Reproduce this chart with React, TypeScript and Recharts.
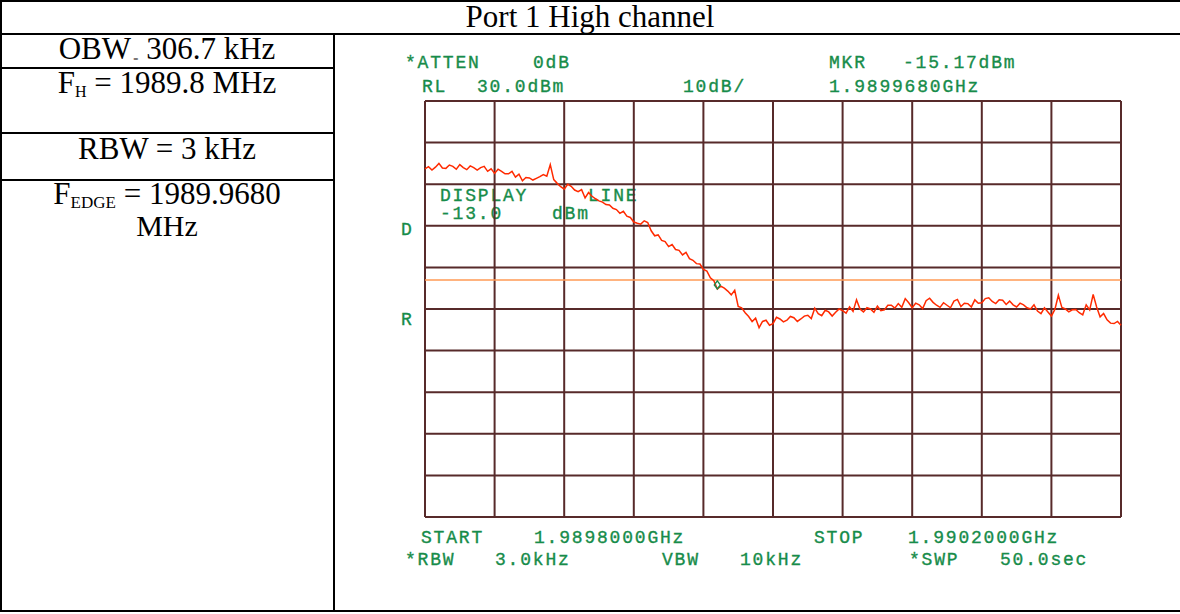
import React from 'react';
import { LineChart, Line, XAxis, YAxis, CartesianGrid, ReferenceLine, ReferenceDot } from 'recharts';

// ============================================
// Data
// ============================================

// sweep: 1989.8000 GHz .. 1990.2000 GHz, points every 2 kHz (offset in kHz)
const SWEEP_START_KHZ = 0;
const SWEEP_STEP_KHZ = 2;

// trace level in dBm, one value per sweep point
const TRACE_DBM = [
  13.7, 14.2, 13.4, 14.1, 15.0, 13.9, 13.8, 14.6, 14.3, 13.6,
  14.7, 14.0, 13.5, 14.4, 14.0, 13.4, 14.0, 14.3, 13.1, 13.7,
  12.6, 13.6, 13.1, 12.5, 12.5, 13.1, 11.7, 12.4, 10.8, 11.6,
  11.5, 11.0, 11.4, 11.8, 12.3, 11.9, 14.7, 11.1, 10.2, 9.4,
  8.8, 10.0, 9.5, 8.6, 8.2, 8.7, 6.7, 8.0, 7.1, 6.5,
  6.0, 5.7, 5.1, 5.0, 4.2, 3.9, 3.0, 3.5, 2.3, 2.0,
  0.9, 0.6, 0.4, 1.2, 0.8, -1.2, -2.4, -2.2, -3.5, -3.8,
  -5.0, -4.5, -5.7, -5.9, -7.0, -6.4, -7.9, -8.3, -9.1, -9.2,
  -10.5, -10.9, -12.5, -13.2, -15.2, -14.5, -15.0, -15.7, -16.6, -15.5,
  -19.4, -19.7, -20.9, -21.8, -23.0, -22.2, -24.5, -23.0, -22.7, -23.9,
  -23.5, -22.0, -22.4, -23.1, -22.7, -21.8, -22.1, -23.0, -22.4, -21.7,
  -21.5, -22.3, -19.8, -21.1, -21.6, -20.3, -20.7, -21.7, -20.8, -20.0,
  -20.4, -21.0, -19.5, -20.6, -17.8, -20.0, -20.7, -19.7, -20.0, -20.8,
  -19.3, -20.4, -20.2, -19.1, -19.1, -19.8, -18.7, -19.6, -17.5, -18.5,
  -19.7, -18.6, -19.0, -19.9, -18.0, -17.4, -18.4, -19.1, -19.6, -18.5,
  -19.1, -19.7, -18.1, -17.7, -19.4, -18.6, -18.7, -19.5, -17.8, -18.6,
  -18.5, -17.5, -17.3, -18.2, -18.7, -17.8, -17.9, -18.9, -18.1, -19.0,
  -19.5, -18.6, -19.0, -19.7, -20.0, -19.0, -20.5, -21.1, -19.7, -20.7,
  -21.7, -20.1, -16.7, -19.6, -20.0, -20.7, -20.2, -20.1, -20.9, -21.4,
  -19.0, -20.2, -16.5, -19.5, -21.9, -21.1, -22.6, -23.4, -23.5, -23.0,
  -23.9,
];

// grid divisions (10 x 10)
const FREQ_TICKS_KHZ = [0, 40, 80, 120, 160, 200, 240, 280, 320, 360, 400];
const LEVEL_TICKS_DBM = [-70, -60, -50, -40, -30, -20, -10, 0, 10, 20, 30];

const DISPLAY_LINE_DBM = -13;
const MARKER_KHZ = 168;
const MARKER_DBM = -15.17;

// analyzer annotations: [text, x, baseline]
const SCREEN_LABELS: Array<[string, number, number]> = [
  ['*ATTEN', 405, 68],
  ['0dB', 533, 68],
  ['MKR', 829, 68],
  ['-15.17dBm', 903, 68],
  ['RL', 422, 92],
  ['30.0dBm', 477, 92],
  ['10dB/', 683, 92],
  ['1.9899680GHz', 829, 92],
  ['DISPLAY', 440, 201],
  ['LINE', 588, 201],
  ['-13.0', 440, 219],
  ['dBm', 552, 219],
  ['D', 401, 235],
  ['R', 401, 325],
  ['START', 421, 543],
  ['1.9898000GHz', 534, 543],
  ['STOP', 814, 543],
  ['1.9902000GHz', 908, 543],
  ['*RBW', 405, 565],
  ['3.0kHz', 495, 565],
  ['VBW', 662, 565],
  ['10kHz', 740, 565],
  ['*SWP', 909, 565],
  ['50.0sec', 1000, 565],
];

const TITLE = 'Port 1 High channel';

const traceData = TRACE_DBM.map((dbm, i) => ({
  f: SWEEP_START_KHZ + i * SWEEP_STEP_KHZ,
  dbm,
}));

// ============================================
// Colors
// ============================================

const GRID = '#572a2a';
const TRACE = '#ff2a00';
const DLINE = '#ff9a55';
const SCREEN_GREEN = '#178c4a';

const MarkerShape = (props: { cx?: number; cy?: number }) => {
  const { cx = 0, cy = 0 } = props;
  return (
    <path
      d={`M${cx},${cy - 8} L${cx + 3},${cy - 4} L${cx},${cy} L${cx - 3},${cy - 4} Z`}
      fill="none"
      stroke={SCREEN_GREEN}
      strokeWidth={1.4}
    />
  );
};

// ============================================
// Table frame + texts
// ============================================

function Frame() {
  const serif = '"Liberation Serif", "Times New Roman", serif';
  return (
    <svg
      width={1180}
      height={614}
      style={{ position: 'absolute', left: 0, top: 0 }}
    >
      {/* table rules */}
      <rect x={0} y={0} width={1180} height={2} fill="#000" />
      <rect x={0} y={33} width={1180} height={2} fill="#000" />
      <rect x={0} y={0} width={2} height={612} fill="#000" />
      <rect x={333} y={34} width={2} height={578} fill="#000" />
      <rect x={0} y={610} width={1180} height={2} fill="#000" />
      <rect x={0} y={67} width={334} height={2} fill="#000" />
      <rect x={0} y={132} width={334} height={2} fill="#000" />
      <rect x={0} y={179} width={334} height={2} fill="#000" />

      <g fontFamily={serif} fill="#000" textAnchor="middle">
        <text x={590} y={27} fontSize={31}>{TITLE}</text>
        <text x={167} y={59} fontSize={31}>
          OBW
          <tspan fontSize={9} dy={3}> =</tspan>
          <tspan dy={-3}> 306.7 kHz</tspan>
        </text>
        <text x={167} y={93} fontSize={31}>
          F
          <tspan fontSize={16} dy={4}>H</tspan>
          <tspan dy={-4}> = 1989.8 MHz</tspan>
        </text>
        <text x={167} y={159} fontSize={31}>RBW = 3 kHz</text>
        <text x={167} y={204} fontSize={31}>
          F
          <tspan fontSize={17} dy={4}>EDGE</tspan>
          <tspan dy={-4}> = 1989.9680</tspan>
        </text>
        <text x={167} y={236} fontSize={30}>MHz</text>
      </g>

      <g
        fontFamily='"Liberation Mono", "DejaVu Sans Mono", monospace'
        fontSize={18}
        letterSpacing={1.8}
        fill={SCREEN_GREEN}
        stroke={SCREEN_GREEN}
        strokeWidth={0.35}
      >
        {SCREEN_LABELS.map(([t, x, y], i) => (
          <text key={i} x={x} y={y}>
            {t}
          </text>
        ))}
      </g>
    </svg>
  );
}

export default function App() {
  return (
    <div
      style={{
        position: 'absolute',
        left: 0,
        top: 0,
        width: 1180,
        height: 614,
        background: '#fff',
        overflow: 'hidden',
      }}
    >
      <Frame />
      <div style={{ position: 'absolute', left: 423, top: 99 }}>
        <LineChart
          width={700}
          height={420}
          data={traceData}
          margin={{ top: 2, right: 2, bottom: 2, left: 2 }}
        >
          <XAxis
            dataKey="f"
            type="number"
            domain={[0, 400]}
            ticks={FREQ_TICKS_KHZ}
            hide
          />
          <YAxis
            type="number"
            domain={[-70, 30]}
            ticks={LEVEL_TICKS_DBM}
            hide
          />
          <CartesianGrid stroke={GRID} strokeWidth={2} />
          <ReferenceLine y={DISPLAY_LINE_DBM} stroke={DLINE} strokeWidth={1.5} />
          <Line
            type="linear"
            dataKey="dbm"
            stroke={TRACE}
            strokeWidth={1.5}
            dot={false}
            isAnimationActive={false}
          />
          <ReferenceDot x={MARKER_KHZ} y={MARKER_DBM} shape={MarkerShape} />
        </LineChart>
      </div>
    </div>
  );
}
